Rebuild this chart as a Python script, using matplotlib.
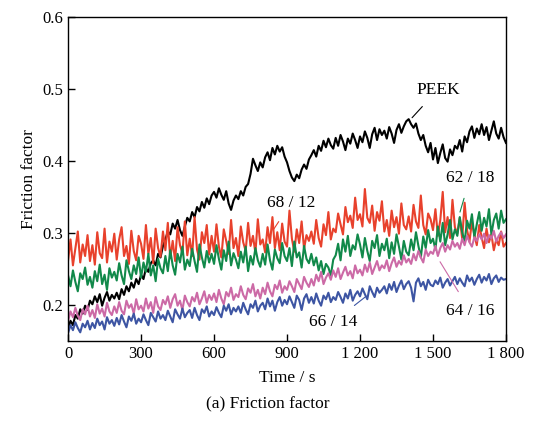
import numpy as np
import matplotlib
matplotlib.use('Agg')
import matplotlib.pyplot as plt

# time axis, one reading every 10 s
time_s = np.arange(0, 1801, 10)

peek = [
    0.168, 0.178, 0.172, 0.186, 0.181, 0.194, 0.188, 0.199, 0.193, 0.206,
    0.201, 0.212, 0.204, 0.215, 0.199, 0.210, 0.218, 0.206, 0.214, 0.209,
    0.217, 0.208, 0.222, 0.214, 0.226, 0.219, 0.231, 0.224, 0.236, 0.229,
    0.242, 0.236, 0.251, 0.246, 0.258, 0.262, 0.255, 0.271, 0.266, 0.282,
    0.291, 0.302, 0.298, 0.313, 0.306, 0.318, 0.304, 0.296, 0.309, 0.321,
    0.316, 0.329, 0.322, 0.336, 0.330, 0.343, 0.335, 0.348, 0.340, 0.352,
    0.357, 0.349, 0.362, 0.353, 0.346, 0.358, 0.341, 0.332, 0.345, 0.352,
    0.347, 0.358, 0.352, 0.364, 0.368, 0.382, 0.403, 0.394, 0.386, 0.398,
    0.391, 0.405, 0.412, 0.401, 0.418, 0.409, 0.421, 0.413, 0.419, 0.406,
    0.398, 0.386, 0.377, 0.372, 0.381, 0.376, 0.388, 0.395, 0.389, 0.402,
    0.408, 0.415, 0.406, 0.421, 0.414, 0.428, 0.419, 0.431, 0.422, 0.417,
    0.432, 0.421, 0.436, 0.427, 0.415, 0.431, 0.424, 0.438, 0.429, 0.418,
    0.434, 0.426, 0.441, 0.432, 0.418, 0.437, 0.446, 0.429, 0.444, 0.436,
    0.442, 0.431, 0.447, 0.438, 0.425, 0.443, 0.451, 0.439, 0.448, 0.455,
    0.458, 0.451, 0.446, 0.452, 0.438, 0.429, 0.436, 0.421, 0.412, 0.425,
    0.402, 0.418, 0.397, 0.411, 0.423, 0.404, 0.399, 0.416, 0.408, 0.421,
    0.417, 0.429, 0.413, 0.434, 0.426, 0.441, 0.448, 0.432, 0.445, 0.437,
    0.451, 0.436, 0.447, 0.429, 0.442, 0.455, 0.438, 0.431, 0.446, 0.433,
    0.425,
]

r68_12 = [
    0.262, 0.291, 0.255, 0.278, 0.302, 0.259, 0.284, 0.268, 0.297, 0.261,
    0.283, 0.256, 0.301, 0.272, 0.265, 0.306, 0.259, 0.288, 0.274, 0.299,
    0.263, 0.291, 0.308, 0.268, 0.282, 0.257, 0.303, 0.275, 0.262, 0.296,
    0.285, 0.264, 0.311, 0.271, 0.293, 0.258, 0.306, 0.279, 0.267, 0.302,
    0.276, 0.314, 0.265, 0.289, 0.261, 0.308, 0.283, 0.272, 0.316, 0.269,
    0.292, 0.268, 0.322, 0.277, 0.263, 0.301, 0.286, 0.311, 0.270, 0.296,
    0.274, 0.312, 0.281, 0.266, 0.305, 0.289, 0.271, 0.318, 0.279, 0.293,
    0.268, 0.309, 0.287, 0.275, 0.314, 0.282, 0.296, 0.272, 0.319, 0.284,
    0.291, 0.273, 0.308, 0.286, 0.322, 0.279, 0.301, 0.276, 0.313, 0.288,
    0.281, 0.331, 0.292, 0.274, 0.305, 0.286, 0.316, 0.278, 0.297, 0.289,
    0.302, 0.285, 0.318, 0.293, 0.281, 0.312, 0.297, 0.329, 0.291, 0.306,
    0.301, 0.327, 0.312, 0.298, 0.336, 0.315, 0.324, 0.307, 0.349, 0.318,
    0.326, 0.309, 0.361, 0.321, 0.314, 0.338, 0.303, 0.329, 0.317, 0.344,
    0.302, 0.318, 0.296, 0.331, 0.308, 0.322, 0.299, 0.341, 0.311, 0.305,
    0.323, 0.302, 0.339, 0.316, 0.307, 0.352, 0.311, 0.298, 0.327, 0.319,
    0.304, 0.333, 0.296, 0.318, 0.357, 0.301, 0.322, 0.293, 0.346, 0.308,
    0.299, 0.321, 0.292, 0.342, 0.304, 0.288, 0.316, 0.297, 0.283, 0.311,
    0.294, 0.279, 0.306, 0.287, 0.298, 0.276, 0.291, 0.283, 0.302, 0.281,
    0.286,
]

r62_18 = [
    0.241, 0.226, 0.248, 0.232, 0.219, 0.244, 0.236, 0.252, 0.228, 0.239,
    0.224, 0.247, 0.233, 0.256, 0.229, 0.242, 0.221, 0.251, 0.238, 0.246,
    0.234, 0.258, 0.241, 0.229, 0.262, 0.247, 0.236, 0.255, 0.243, 0.266,
    0.238, 0.259, 0.246, 0.271, 0.241, 0.255, 0.233, 0.264, 0.251, 0.244,
    0.268, 0.247, 0.276, 0.255, 0.242, 0.271, 0.259, 0.281, 0.249, 0.263,
    0.254, 0.278, 0.261, 0.246, 0.284, 0.266, 0.252, 0.275, 0.259, 0.271,
    0.257, 0.283, 0.264, 0.249, 0.276, 0.261, 0.288, 0.255, 0.272, 0.263,
    0.251, 0.274, 0.259, 0.281, 0.247, 0.268, 0.256, 0.279, 0.262, 0.253,
    0.271, 0.256, 0.284, 0.262, 0.249, 0.277, 0.265, 0.258, 0.286, 0.268,
    0.261, 0.279, 0.254, 0.288, 0.266, 0.273, 0.252, 0.282, 0.264, 0.258,
    0.271, 0.255, 0.266, 0.248, 0.261, 0.243, 0.257, 0.252, 0.241, 0.263,
    0.269, 0.285, 0.262, 0.291, 0.274, 0.296, 0.268, 0.283, 0.277, 0.298,
    0.284, 0.266, 0.293, 0.275, 0.261, 0.289, 0.279, 0.297, 0.268, 0.285,
    0.276, 0.292, 0.265, 0.287, 0.271, 0.298, 0.281, 0.263, 0.289, 0.274,
    0.269, 0.291, 0.276, 0.301, 0.282, 0.266, 0.295, 0.279, 0.304, 0.286,
    0.292, 0.277, 0.309, 0.288, 0.314, 0.283, 0.298, 0.318, 0.291, 0.305,
    0.296, 0.322, 0.301, 0.288, 0.317, 0.306, 0.326, 0.294, 0.312, 0.329,
    0.303, 0.321, 0.309, 0.333, 0.298, 0.318, 0.327, 0.306, 0.331, 0.314,
    0.319,
]

r64_16 = [
    0.178, 0.191, 0.183, 0.196, 0.185, 0.179, 0.194, 0.187, 0.199, 0.184,
    0.193, 0.182, 0.201, 0.188, 0.195, 0.184, 0.203, 0.191, 0.186, 0.198,
    0.189, 0.204, 0.192, 0.187, 0.206, 0.196, 0.201, 0.188, 0.208, 0.194,
    0.199, 0.191, 0.209, 0.195, 0.204, 0.189, 0.211, 0.198, 0.193, 0.207,
    0.201, 0.212, 0.196, 0.208, 0.215, 0.199, 0.206, 0.193, 0.213, 0.204,
    0.198, 0.211, 0.205, 0.217, 0.201, 0.209, 0.219, 0.203, 0.214, 0.207,
    0.216, 0.204, 0.221, 0.209, 0.201, 0.218, 0.212, 0.224, 0.207, 0.215,
    0.211, 0.226, 0.214, 0.208, 0.223, 0.217, 0.229, 0.212, 0.221, 0.209,
    0.224, 0.215, 0.231, 0.219, 0.212, 0.228, 0.222, 0.234, 0.217, 0.226,
    0.221, 0.233, 0.226, 0.218, 0.236, 0.229, 0.222, 0.239, 0.231, 0.225,
    0.236, 0.227, 0.242, 0.233, 0.246, 0.229, 0.238, 0.244, 0.235, 0.248,
    0.239, 0.251, 0.236, 0.245, 0.253, 0.241, 0.247, 0.237, 0.255, 0.244,
    0.249, 0.241, 0.256, 0.246, 0.259, 0.243, 0.252, 0.261, 0.248, 0.255,
    0.251, 0.262, 0.247, 0.258, 0.266, 0.253, 0.261, 0.256, 0.269, 0.259,
    0.264, 0.257, 0.271, 0.262, 0.275, 0.266, 0.259, 0.277, 0.268, 0.274,
    0.271, 0.282, 0.268, 0.279, 0.286, 0.274, 0.283, 0.277, 0.289, 0.281,
    0.286, 0.278, 0.292, 0.283, 0.296, 0.287, 0.281, 0.294, 0.289, 0.298,
    0.291, 0.299, 0.286, 0.297, 0.292, 0.303, 0.288, 0.296, 0.301, 0.293,
    0.298,
]

r66_14 = [
    0.161, 0.172, 0.165, 0.176, 0.168, 0.162, 0.174, 0.169, 0.178, 0.166,
    0.175, 0.168, 0.181, 0.172, 0.177, 0.166, 0.183, 0.174, 0.179, 0.171,
    0.182, 0.173, 0.186, 0.177, 0.169, 0.184, 0.178, 0.188, 0.174, 0.181,
    0.176, 0.187, 0.179, 0.172, 0.189, 0.183, 0.177, 0.191, 0.181, 0.186,
    0.179, 0.192, 0.184, 0.176, 0.194, 0.187, 0.181, 0.195, 0.183, 0.189,
    0.193, 0.182, 0.196, 0.186, 0.179, 0.194, 0.189, 0.198, 0.184, 0.191,
    0.186, 0.197, 0.189, 0.183, 0.199, 0.192, 0.201, 0.187, 0.196, 0.191,
    0.198, 0.189, 0.203, 0.194, 0.187, 0.201, 0.196, 0.206, 0.191, 0.199,
    0.203, 0.194, 0.209, 0.198, 0.206, 0.192, 0.204, 0.211, 0.199, 0.207,
    0.201, 0.212, 0.204, 0.196, 0.213, 0.207, 0.193, 0.209, 0.215, 0.203,
    0.211, 0.202, 0.216, 0.206, 0.199, 0.213, 0.208, 0.217, 0.204, 0.211,
    0.207, 0.218, 0.211, 0.203, 0.216, 0.209, 0.221, 0.206, 0.214, 0.219,
    0.212, 0.223, 0.215, 0.208, 0.226, 0.218, 0.211, 0.224, 0.217, 0.221,
    0.226, 0.216, 0.229, 0.221, 0.232, 0.218, 0.227, 0.234, 0.222, 0.229,
    0.233, 0.224, 0.205, 0.231, 0.237, 0.226, 0.232, 0.221, 0.235, 0.228,
    0.226, 0.234, 0.229, 0.238, 0.224, 0.231, 0.236, 0.227, 0.233, 0.239,
    0.229, 0.237, 0.231, 0.226, 0.241, 0.233, 0.238, 0.228, 0.236, 0.242,
    0.231, 0.239, 0.234, 0.243, 0.229, 0.237, 0.241, 0.232, 0.238, 0.235,
    0.236,
]

x_ticks = [0, 300, 600, 900, 1200, 1500, 1800]
x_tick_labels = ['0', '300', '600', '900', '1 200', '1 500', '1 800']
y_ticks = [0.2, 0.3, 0.4, 0.5, 0.6]

plt.rcParams['font.family'] = ['Liberation Serif', 'DejaVu Serif']
plt.rcParams['font.size'] = 12

fig = plt.figure(figsize=(5.36, 4.33), dpi=100)
ax = fig.add_axes([0.127, 0.2125, 0.817, 0.7485])

lw = 1.5
ax.plot(time_s, peek, color='black', lw=lw)
ax.plot(time_s, r68_12, color='#e8412c', lw=lw)
ax.plot(time_s, r62_18, color='#11894a', lw=lw)
ax.plot(time_s, r64_16, color='#cc6aa6', lw=lw)
ax.plot(time_s, r66_14, color='#3d55a3', lw=lw)

ax.set_xlim(0, 1800)
ax.set_ylim(0.15, 0.6)
ax.set_xticks(x_ticks)
ax.set_xticklabels(x_tick_labels)
ax.set_yticks(y_ticks)
ax.set_yticklabels(['0.2', '0.3', '0.4', '0.5', '0.6'])
ax.tick_params(direction='in', length=5, width=1, labelsize=12)
for s in ax.spines.values():
    s.set_linewidth(1.0)

ax.set_xlabel('Time / s', fontsize=12.5, labelpad=6)
ax.set_ylabel('Friction factor', fontsize=12.5, labelpad=4)

# curve labels with leader lines
ax.annotate('PEEK', xy=(1414, 0.460), xytext=(1520, 0.499), ha='center', va='center',
            fontsize=12.5, arrowprops=dict(arrowstyle='-', color='black', lw=0.8,
                                           shrinkA=6, shrinkB=0))
ax.annotate('68 / 12', xy=(843, 0.304), xytext=(917, 0.342), ha='center', va='center',
            fontsize=12.5, arrowprops=dict(arrowstyle='-', color='#e8412c', lw=0.8,
                                           shrinkA=7, shrinkB=0))
ax.annotate('62 / 18', xy=(1611, 0.329), xytext=(1652, 0.376), ha='center', va='center',
            fontsize=12.5, arrowprops=dict(arrowstyle='-', color='#11894a', lw=0.8,
                                           shrinkA=7, shrinkB=0))
ax.annotate('64 / 16', xy=(1529, 0.260), xytext=(1652, 0.192), ha='center', va='center',
            fontsize=12.5, arrowprops=dict(arrowstyle='-', color='#cc6aa6', lw=0.8,
                                           shrinkA=7, shrinkB=0))
ax.annotate('66 / 14', xy=(1221, 0.211), xytext=(1089, 0.176), ha='center', va='center',
            fontsize=12.5, arrowprops=dict(arrowstyle='-', color='#3d55a3', lw=0.8,
                                           shrinkA=7, shrinkB=0))

fig.text(0.5, 0.067, '(a) Friction factor', ha='center', va='center', fontsize=12.5)

fig.savefig('out.png', dpi=100)
